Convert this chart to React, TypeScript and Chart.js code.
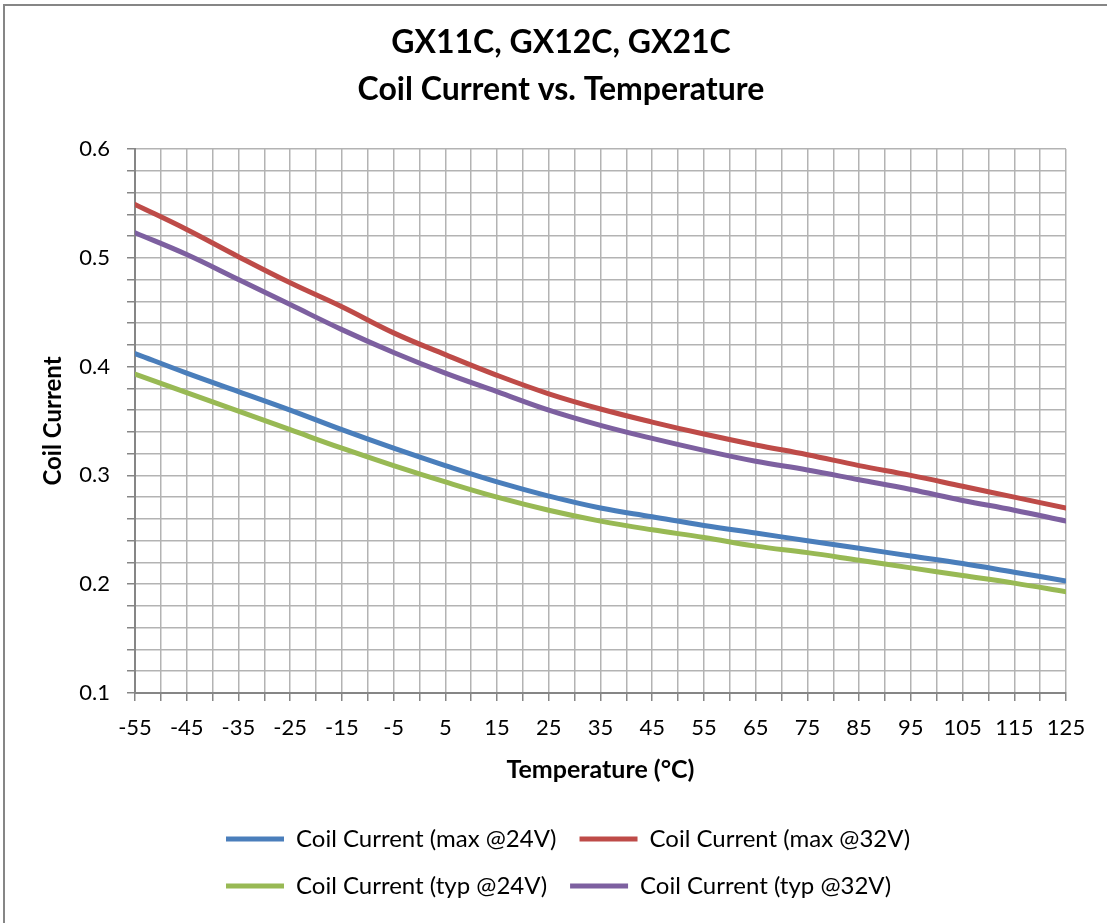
import React, { useEffect, useRef } from "react";
import { Chart, registerables } from "chart.js";

Chart.register(...registerables);

const temperatures = [-55, -45, -35, -25, -15, -5, 5, 15, 25, 35, 45, 55, 65, 75, 85, 95, 105, 115, 125];
const maxAt24V = [0.412, 0.394, 0.377, 0.360, 0.342, 0.325, 0.309, 0.294, 0.281, 0.270, 0.262, 0.254, 0.247, 0.240, 0.233, 0.226, 0.219, 0.211, 0.203];
const maxAt32V = [0.549, 0.526, 0.501, 0.477, 0.455, 0.431, 0.411, 0.392, 0.375, 0.361, 0.349, 0.338, 0.328, 0.319, 0.309, 0.300, 0.290, 0.280, 0.270];
const typAt24V = [0.393, 0.376, 0.359, 0.342, 0.325, 0.309, 0.294, 0.280, 0.268, 0.258, 0.250, 0.243, 0.235, 0.229, 0.222, 0.215, 0.208, 0.201, 0.193];
const typAt32V = [0.523, 0.503, 0.480, 0.457, 0.434, 0.413, 0.394, 0.377, 0.360, 0.346, 0.334, 0.323, 0.313, 0.305, 0.296, 0.287, 0.277, 0.268, 0.258];

const seriesLabels = [
  "Coil Current (max @24V)",
  "Coil Current (max @32V)",
  "Coil Current (typ @24V)",
  "Coil Current (typ @32V)",
];
const seriesColors = ["#4A7EBB", "#BE4B48", "#98B954", "#7D60A0"];
const titleLines = ["GX11C, GX12C, GX21C", "Coil Current vs. Temperature"];
const xTitle = "Temperature (°C)";
const yTitle = "Coil Current";

const FONT = "Lato, 'Open Sans', sans-serif";

export default function App() {
  const ref = useRef<HTMLCanvasElement | null>(null);

  useEffect(() => {
    if (!ref.current) return;
    const seriesValues = [maxAt24V, maxAt32V, typAt24V, typAt32V];
    const datasets = seriesValues.map((vals, i) => ({
      label: seriesLabels[i],
      data: temperatures.map((t, j) => ({ x: t, y: vals[j] })),
      borderColor: seriesColors[i],
      backgroundColor: seriesColors[i],
      borderWidth: 5,
      borderCapStyle: "round" as const,
      borderJoinStyle: "round" as const,
      pointRadius: 0,
      tension: 0.4,
      fill: false,
    }));

    const frame = {
      id: "frame",
      beforeDraw(chart: any) {
        const ctx = chart.ctx;
        ctx.save();
        ctx.fillStyle = "#ffffff";
        ctx.fillRect(0, 0, chart.width, chart.height);
        ctx.strokeStyle = "#868686";
        ctx.lineWidth = 2;
        ctx.strokeRect(4, 5, chart.width + 20, chart.height + 20);
        ctx.restore();
      },
      afterLayout(chart: any) {
        const lg = chart.legend;
        if (lg) {
          const pad = 23;
          const dx = 226 - (lg.left + pad);
          lg.left += dx;
          lg.right += dx;
        }
        const tb = chart.titleBlock;
        if (tb) {
          const dx = 561 - (tb.left + tb.right) / 2;
          tb.left += dx;
          tb.right += dx;
        }
      },
    };

    const chart = new Chart(ref.current, {
      type: "line",
      data: { datasets },
      plugins: [frame],
      options: {
        animation: false,
        responsive: false,
        devicePixelRatio: 1,
        layout: { padding: { top: 0, left: 0, right: 41, bottom: 15 } },
        font: { family: FONT },
        plugins: {
          title: {
            display: true,
            text: titleLines,
            color: "#000000",
            font: { family: FONT, size: 32, weight: "bold", lineHeight: "47px" },
            padding: { top: 19.5, bottom: 35.5 },
          },
          legend: {
            display: true,
            position: "bottom",
            align: "start",
            fullSize: false,
            labels: {
              color: "#000000",
              font: { family: FONT, size: 24 },
              usePointStyle: true,
              pointStyle: "line",
              pointStyleWidth: 58,
              padding: 23,
            },
          },
          tooltip: { enabled: false },
        },
        scales: {
          x: {
            type: "linear",
            min: -55,
            max: 125,
            afterFit(scale: any) {
              scale.height = 111;
            },
            ticks: {
              stepSize: 5,
              autoSkip: false,
              maxRotation: 0,
              color: "#000000",
              font: { family: FONT, size: 22 },
              padding: 14,
              callback: (v: any) => (((Number(v) + 55) % 10 === 0) ? String(v) : ""),
            },
            grid: {
              color: "#B3B3B3",
              lineWidth: 1.5,
              tickColor: "#868686",
              tickWidth: 1.5,
              tickLength: 8,
            },
            border: { color: "#868686", width: 2 },
            title: {
              display: true,
              text: xTitle,
              color: "#000000",
              font: { family: FONT, size: 25, weight: "bold" },
              padding: { top: 0, bottom: 19 },
            },
          },
          y: {
            type: "linear",
            min: 0.1,
            max: 0.6,
            afterFit(scale: any) {
              scale.width = 135;
            },
            ticks: {
              stepSize: 0.02,
              autoSkip: false,
              color: "#000000",
              font: { family: FONT, size: 22 },
              padding: 17,
              callback: (v: any) => {
                const r = Math.round(Number(v) * 100);
                return r % 10 === 0 ? (r / 100).toString() : "";
              },
            },
            grid: {
              color: "#B3B3B3",
              lineWidth: 1.5,
              tickColor: "#868686",
              tickWidth: 1.5,
              tickLength: 8,
            },
            border: { color: "#868686", width: 2 },
            title: {
              display: true,
              text: yTitle,
              color: "#000000",
              font: { family: FONT, size: 24, weight: "bold" },
              padding: { top: 39, bottom: 0 },
            },
          },
        },
      },
    } as any);

    return () => chart.destroy();
  }, []);

  return (
    <div style={{ position: "absolute", left: 0, top: 0, width: 1107, height: 923 }}>
      <canvas ref={ref} width={1107} height={923} />
    </div>
  );
}
